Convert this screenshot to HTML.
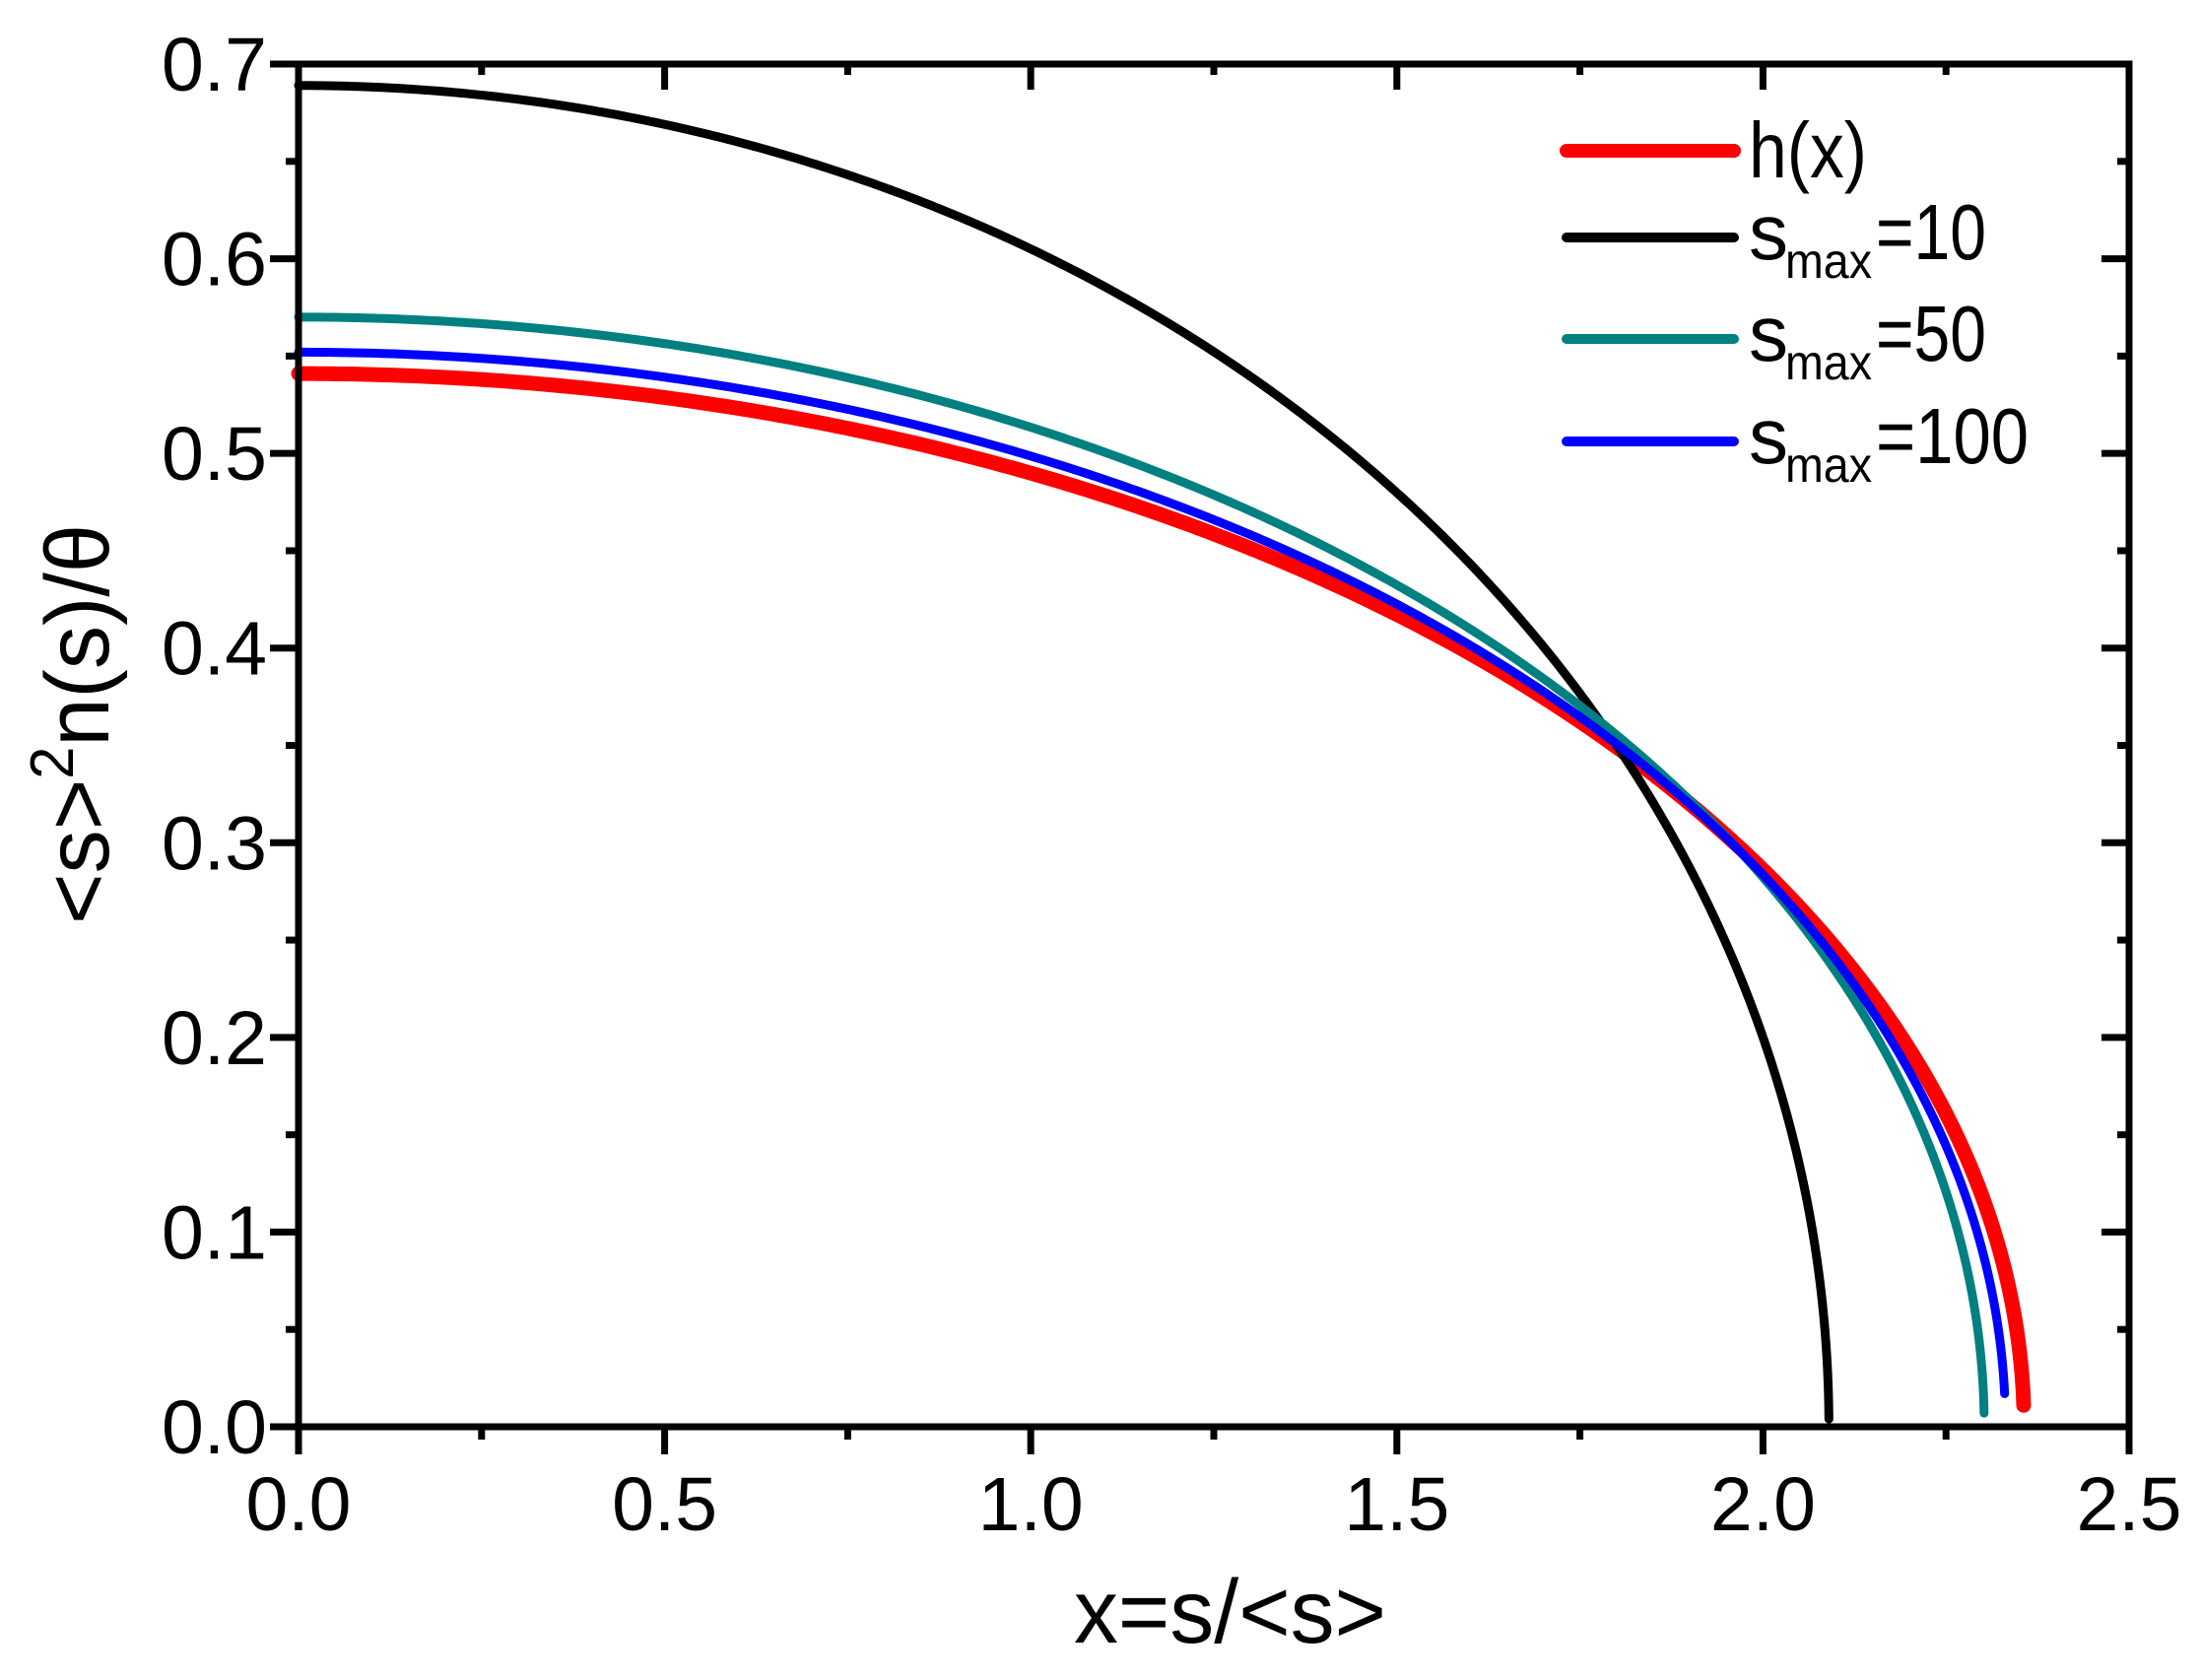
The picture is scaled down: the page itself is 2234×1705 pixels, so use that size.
<!DOCTYPE html>
<html><head><meta charset="utf-8"><style>html,body{margin:0;padding:0;background:#fff}svg{display:block}</style></head>
<body>
<svg id="s" width="2234" height="1705" viewBox="0 0 2234 1705" xmlns="http://www.w3.org/2000/svg" font-family="Liberation Sans, Arial, sans-serif">
<rect width="2234" height="1705" fill="#fff"/>
<g id="curves" fill="none" stroke-linecap="round" stroke-linejoin="round"></g>
<g id="axes" stroke="#000" fill="none"></g>
<g id="labels" font-size="77" fill="#000"></g>
<text x="1090" y="1667" font-size="92" textLength="317" lengthAdjust="spacingAndGlyphs">x=s/&lt;s&gt;</text>
<text transform="translate(110,938) rotate(-90)" font-size="92" textLength="406" lengthAdjust="spacingAndGlyphs">&lt;s&gt;<tspan font-size="62" dy="-36">2</tspan><tspan dy="36">n(s)/θ</tspan></text>
<g stroke-linecap="round">
<line x1="1590" y1="153" x2="1760" y2="153" stroke="#ff0000" stroke-width="14"/>
<line x1="1590" y1="241" x2="1760" y2="241" stroke="#000" stroke-width="10"/>
<line x1="1590" y1="344" x2="1760" y2="344" stroke="#008080" stroke-width="10"/>
<line x1="1590" y1="448" x2="1760" y2="448" stroke="#0000ff" stroke-width="10"/>
</g>
<g fill="#000" font-size="80">
<text x="1775" y="180" textLength="120" lengthAdjust="spacingAndGlyphs">h(x)</text>
<text x="1775" y="263">s</text><text x="1812" y="282" font-size="50" textLength="88" lengthAdjust="spacingAndGlyphs">max</text><text x="1904" y="263" textLength="112" lengthAdjust="spacingAndGlyphs">=10</text>
<text x="1775" y="366">s</text><text x="1812" y="385" font-size="50" textLength="88" lengthAdjust="spacingAndGlyphs">max</text><text x="1904" y="366" textLength="112" lengthAdjust="spacingAndGlyphs">=50</text>
<text x="1775" y="470">s</text><text x="1812" y="489" font-size="50" textLength="88" lengthAdjust="spacingAndGlyphs">max</text><text x="1904" y="470" textLength="155" lengthAdjust="spacingAndGlyphs">=100</text>
</g>
</svg>
<script>
(function(){
var NS="http://www.w3.org/2000/svg";
var X0=303,X1=2161,Y0=1448,Y1=65;
function px(x){return X0+x/2.5*(X1-X0);}
function py(y){return Y0-y/0.7*(Y0-Y1);}
function el(tag,attrs,parent){var e=document.createElementNS(NS,tag);for(var k in attrs)e.setAttribute(k,attrs[k]);parent.appendChild(e);return e;}
var cg=document.getElementById('curves');
var series=[
 {a:0.541,xe:2.356,ye:0.011,c:'#ff0000',w:15},
 {a:0.689,xe:2.090,ye:0.004,c:'#000000',w:9},
 {a:0.570,xe:2.302,ye:0.007,c:'#008080',w:9},
 {a:0.552,xe:2.330,ye:0.017,c:'#0000ff',w:9}
];
series.forEach(function(s){
 var b=s.xe/Math.sqrt(1-Math.pow(s.ye/s.a,2));
 var d='',N=400;
 for(var i=0;i<=N;i++){
  var t=i/N; var x=s.xe*Math.sin(t*Math.PI/2);
  var y=s.a*Math.sqrt(Math.max(0,1-Math.pow(x/b,2)));
  d+=(i?'L':'M')+px(x).toFixed(2)+' '+py(y).toFixed(2);
 }
 el('path',{d:d,stroke:s.c,'stroke-width':s.w},cg);
});
var ag=document.getElementById('axes');
el('rect',{x:X0,y:Y1,width:X1-X0,height:Y0-Y1,'stroke-width':7},ag);
var lg=document.getElementById('labels');
for(var i=0;i<=10;i++){
 var v=i*0.25,x=px(v),maj=(i%2==0);
 el('line',{x1:x,y1:Y0,x2:x,y2:Y0+(maj?28:13),'stroke-width':7},ag);
 el('line',{x1:x,y1:Y1,x2:x,y2:Y1+(maj?26:11),'stroke-width':7},ag);
 if(maj){var t=el('text',{x:x,y:1553,'text-anchor':'middle'},lg);t.textContent=v.toFixed(1);}
}
for(var j=0;j<=14;j++){
 var v=j*0.05,y=py(v),maj=(j%2==0);
 el('line',{x1:X0,y1:y,x2:X0-(maj?29:13),y2:y,'stroke-width':7},ag);
 el('line',{x1:X1,y1:y,x2:X1-(maj?28:12),y2:y,'stroke-width':7},ag);
 if(maj){var t=el('text',{x:271,y:y+27,'text-anchor':'end'},lg);t.textContent=v.toFixed(1);}
}
})();
</script>
</body></html>
